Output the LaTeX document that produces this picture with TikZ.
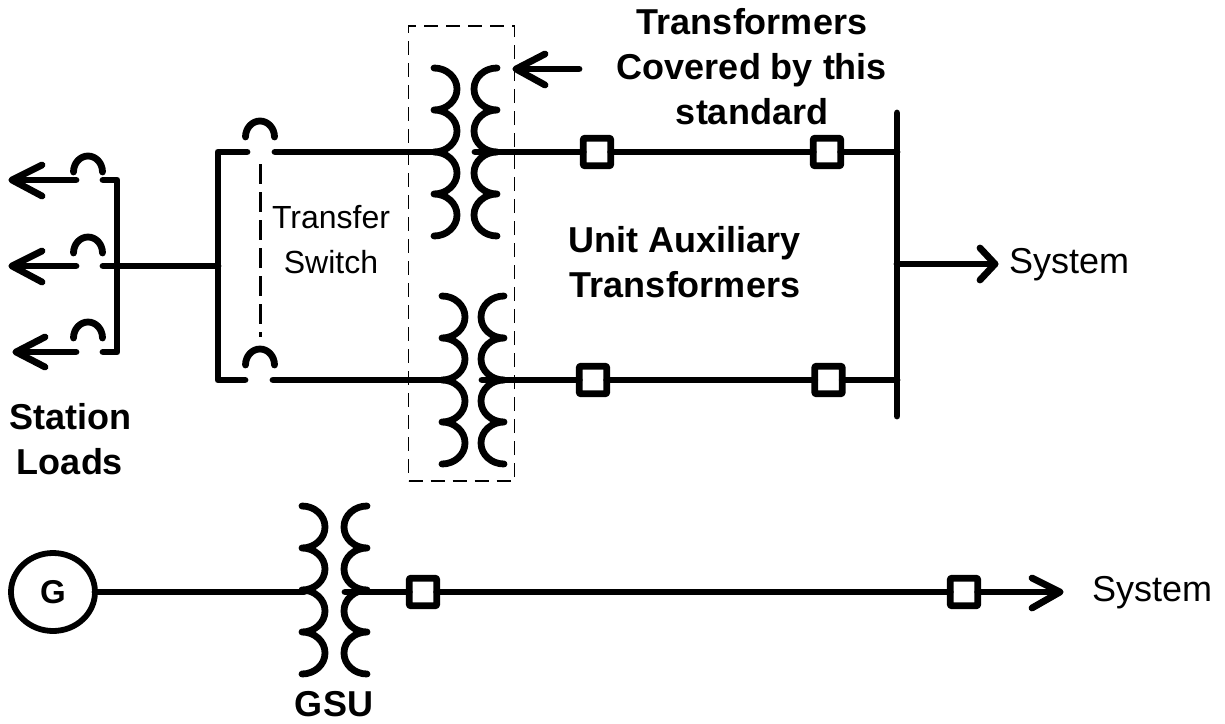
\documentclass[tikz,border=0pt]{standalone}
\usepackage{fontspec}
\setmainfont{Liberation Sans}
\usetikzlibrary{shapes.geometric}
\tikzset{
  wire/.style={line width=6.8pt,line cap=round,line join=round},
  brk/.style={draw,line width=6.8pt,line join=round,fill=white,minimum size=27.5pt,inner sep=0pt,outer sep=0pt,rounded corners=1pt},
  lbl/.style={font=\fontsize{36}{45}\selectfont,align=center,inner sep=0pt},
  swlbl/.style={font=\fontsize{32}{45}\selectfont,align=center,inner sep=0pt},
  blbl/.style={font=\fontsize{36}{45}\selectfont\bfseries,align=center,inner sep=0pt},
  pics/coil/.style n args={2}{code={
    \draw[wire] (0,0) arc[start angle=90,end angle=-90,x radius=#1pt,y radius=#2pt]
      arc[start angle=90,end angle=-90,x radius=#1pt,y radius=#2pt]
      arc[start angle=90,end angle=-90,x radius=#1pt,y radius=#2pt]
      arc[start angle=90,end angle=-90,x radius=#1pt,y radius=#2pt];
  }},
  pics/hump/.style={code={
    \draw[wire] (-14.5,0) arc[start angle=180,end angle=0,x radius=14.5pt,y radius=16pt];
  }},
}
\begin{document}
\begin{tikzpicture}[x=1pt,y=-1pt]
\useasboundingbox (0,0) rectangle (1225,723);
% dashed box
\node[draw,line width=1.8pt,dash pattern=on 14pt off 8pt,minimum width=106pt,minimum height=455pt,inner sep=0pt] (cover) at (461.5,253.5) {};
% transformers
\pic at (434,68) {coil={23}{21}};
\pic at (497,68) {coil={-23}{21}};
\pic at (442,296) {coil={23}{21}};
\pic at (504,296) {coil={-23}{21}};
\pic at (302,506) {coil={23}{21}};
\pic at (367,506) {coil={-23}{21}};
% coordinates
\coordinate (t1a) at (434,152);
\coordinate (t1b) at (475,152);
\coordinate (t2a) at (442,380);
\coordinate (t2b) at (482,380);
\coordinate (gsua) at (304,592);
\coordinate (gsub) at (345,592);
% breakers
\node[brk] (b1) at (597,152) {};
\node[brk] (b2) at (827,152) {};
\node[brk] (b3) at (593,380) {};
\node[brk] (b4) at (828.5,380) {};
\node[brk] (b5) at (423,592) {};
\node[brk] (b6) at (964,592) {};
% bus
\coordinate (busT) at (897,113);
\coordinate (busB) at (897,416);
\coordinate (busM) at (897,264);
\coordinate (sysA) at (995,264);
\coordinate (busU) at (897,152);
\coordinate (busL) at (897,380);
\draw[wire] (busT) -- (busB);
\draw[wire] (t1b) -- (b1);
\draw[wire] (b1) -- (b2);
\draw[wire] (b2) -- (busU);
\draw[wire] (t2b) -- (b3);
\draw[wire] (b3) -- (b4);
\draw[wire] (b4) -- (busL);
\draw[wire] (busM) -- (sysA);
\draw[wire] (980,248) -- (sysA) -- (980,280);
% GSU line
\node[draw,ellipse,line width=5.8pt,minimum width=84pt,minimum height=78pt,inner sep=0pt,outer sep=0pt,font=\fontsize{33}{33}\selectfont\bfseries] (gen) at (53,592) {G};
\draw[wire] (gen) -- (gsua);
\draw[wire] (gsub) -- (b5);
\draw[wire] (b5) -- (b6);
\coordinate (sysB) at (1060,592);
\draw[wire] (b6) -- (sysB);
\draw[wire] (1032,578) -- (sysB) -- (1032,608);
% arrow onto box
\coordinate (covA) at (516,69);
\coordinate (covT) at (579,69);
\draw[wire] (covT) -- (covA);
\draw[wire] (545,54) -- (covA) -- (545,85);
% transfer switch
\coordinate (tsT) at (218,152);
\coordinate (tsB) at (218,380);
\draw[wire] (247,152) -- (tsT) -- (tsB) -- (245,380);
\draw[wire] (275,152) -- (t1a);
\draw[wire] (273,380) -- (t2a);
\pic at (260,137) {hump};
\pic at (260,365) {hump};
\draw[line width=3pt,dash pattern=on 20pt off 8pt] (260,164) -- (260,337);
% station loads
\pic at (88,172) {hump};
\pic at (88,253) {hump};
\pic at (88,338) {hump};
\coordinate (l1) at (12,180);
\coordinate (l2) at (12,266);
\coordinate (l3) at (16,352);
\draw[wire] (76,180) -- (l1);
\draw[wire] (42,165) -- (l1) -- (42,196);
\draw[wire] (76,266) -- (l2);
\draw[wire] (42,251) -- (l2) -- (42,282);
\draw[wire] (76,352) -- (l3);
\draw[wire] (45,337) -- (l3) -- (45,367);
\draw[wire] (103,180) -- (117,180) -- (117,352) -- (103,352);
\draw[wire] (103,266) -- (218,266);
% labels
\node[blbl] (tcov) at (752,67) {Transformers\\Covered by this\\standard};
\node[blbl] (uat) at (685,262) {Unit Auxiliary\\Transformers};
\node[swlbl] (ts) at (331,240) {Transfer\\Switch};
\node[blbl] (sl) at (70,439) {Station\\Loads};
\node[blbl] (gsu) at (334,704) {GSU};
\node[lbl] (s1) at (1069,265) {System};
\node[lbl] (s2) at (1152,593) {System};
\end{tikzpicture}
\end{document}
